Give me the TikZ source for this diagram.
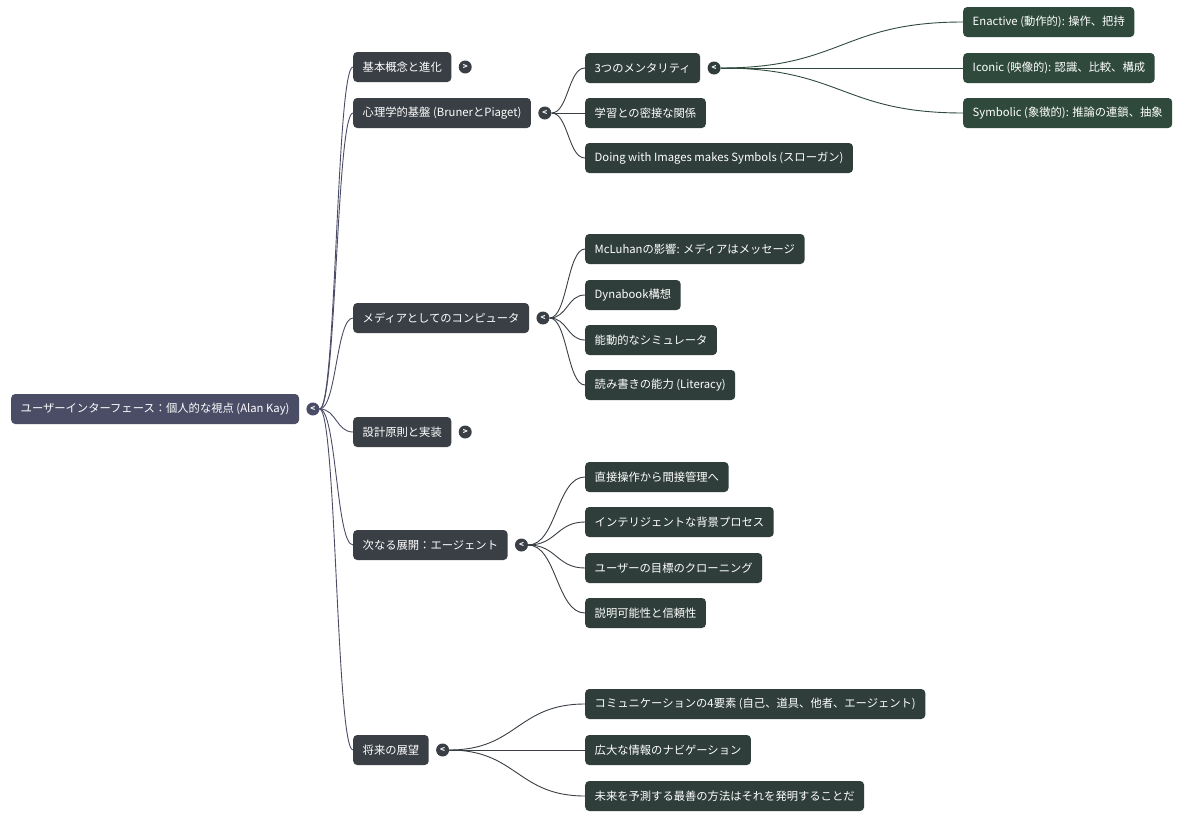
\documentclass[tikz,border=0pt]{standalone}
\usepackage{fontspec}
\setmainfont{Noto Sans CJK JP}
\usetikzlibrary{positioning,calc}
\definecolor{rootcol}{HTML}{4B4D66}
\definecolor{onecol}{HTML}{3A3F45}
\definecolor{twocol}{HTML}{2F3E3A}
\definecolor{threecol}{HTML}{2F4A3D}
\tikzstyle{topic} = [anchor=west, rounded corners=4pt, text=white, minimum height=30pt, inner xsep=9.5pt, font=\fontsize{11.3}{14}\selectfont]
\tikzstyle{rootbox} = [topic, fill=rootcol]
\tikzstyle{onebox} = [topic, fill=onecol]
\tikzstyle{twobox} = [topic, fill=twocol]
\tikzstyle{threebox} = [topic, fill=threecol]
\tikzstyle{toggle} = [circle, inner sep=0pt, minimum size=13pt, text=white, font=\fontsize{8}{8}\selectfont\bfseries]
\tikzstyle{branch} = [line width=0.9pt, to path={let \p1=(\tikztostart), \p2=(\tikztotarget) in .. controls ({(\x1+\x2)/2},\y1) and ({(\x1+\x2)/2},\y2) .. (\tikztotarget)}]

\begin{document}
\begin{tikzpicture}[x=1pt,y=-1pt]
	\useasboundingbox[fill=white] (0,0) rectangle (1200,819);
	% root
	\node[rootbox] (ui) at (11,409) {ユーザーインターフェース：個人的な視点 (Alan Kay)};
	\node[toggle, fill=rootcol, right=7pt of ui] (uit) {<};
	% first level
	\node[onebox] (basics) at (353,67) {基本概念と進化};
	\node[toggle, fill=onecol, right=7pt of basics] (basicst) {>};
	\node[onebox] (psych) at (353,113) {心理学的基盤 (BrunerとPiaget)};
	\node[toggle, fill=onecol, right=7pt of psych] (psycht) {<};
	\node[onebox] (media) at (353,318) {メディアとしてのコンピュータ};
	\node[toggle, fill=onecol, right=7pt of media] (mediat) {<};
	\node[onebox] (design) at (353,432) {設計原則と実装};
	\node[toggle, fill=onecol, right=7pt of design] (designt) {>};
	\node[onebox] (agent) at (353,545) {次なる展開：エージェント};
	\node[toggle, fill=onecol, right=7pt of agent] (agentt) {<};
	\node[onebox] (future) at (353,750) {将来の展望};
	\node[toggle, fill=onecol, right=7pt of future] (futuret) {<};
	% second level
	\node[twobox] (mental) at (585,68) {3つのメンタリティ};
	\node[toggle, fill=twocol, right=7pt of mental] (mentalt) {<};
	\node[twobox] (learn) at (585,113) {学習との密接な関係};
	\node[twobox] (slogan) at (585,158) {Doing with Images makes Symbols (スローガン)};
	\node[twobox] (mcluhan) at (585,249) {McLuhanの影響: メディアはメッセージ};
	\node[twobox] (dyna) at (585,295) {Dynabook構想};
	\node[twobox] (sim) at (585,340) {能動的なシミュレータ};
	\node[twobox] (lit) at (585,385) {読み書きの能力 (Literacy)};
	\node[twobox] (direct) at (585,477) {直接操作から間接管理へ};
	\node[twobox] (backg) at (585,522) {インテリジェントな背景プロセス};
	\node[twobox] (clone) at (585,568) {ユーザーの目標のクローニング};
	\node[twobox] (trust) at (585,613) {説明可能性と信頼性};
	\node[twobox] (comm) at (585,704) {コミュニケーションの4要素 (自己、道具、他者、エージェント)};
	\node[twobox] (navi) at (585,750) {広大な情報のナビゲーション};
	\node[twobox] (invent) at (585,796) {未来を予測する最善の方法はそれを発明することだ};
	% third level
	\node[threebox] (enact) at (963,22) {Enactive (動作的): 操作、把持};
	\node[threebox] (icon) at (963,68) {Iconic (映像的): 認識、比較、構成};
	\node[threebox] (symb) at (963,113) {Symbolic (象徴的): 推論の連鎖、抽象};

	\foreach \kid in {basics,psych,media,design,agent,future}
		\draw[branch, rootcol] (uit.east) to (\kid.west);
	\foreach \kid in {mental,learn,slogan}
		\draw[branch, onecol] (psycht.east) to (\kid.west);
	\foreach \kid in {mcluhan,dyna,sim,lit}
		\draw[branch, onecol] (mediat.east) to (\kid.west);
	\foreach \kid in {direct,backg,clone,trust}
		\draw[branch, onecol] (agentt.east) to (\kid.west);
	\foreach \kid in {comm,navi,invent}
		\draw[branch, onecol] (futuret.east) to (\kid.west);
	\foreach \kid in {enact,icon,symb}
		\draw[branch, threecol] (mentalt.east) to (\kid.west);
\end{tikzpicture}
\end{document}
